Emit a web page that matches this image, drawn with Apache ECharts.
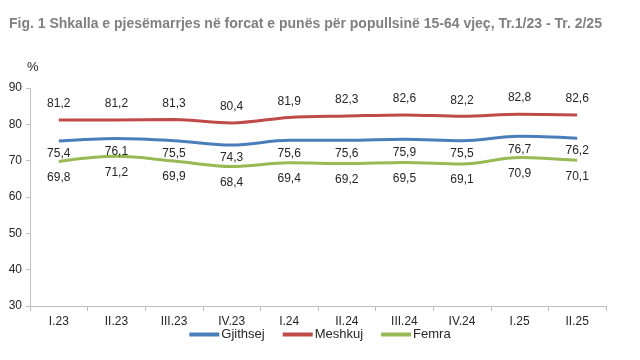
<!DOCTYPE html>
<html><head><meta charset="utf-8">
<script src="https://cdn.jsdelivr.net/npm/echarts@6/dist/echarts.min.js"></script>
<style>html,body{margin:0;padding:0;background:#fff}#c{width:640px;height:360px}</style>
</head><body><div id="c"></div>
<script>
const categories = ['I.23','II.23','III.23','IV.23','I.24','II.24','III.24','IV.24','I.25','II.25'];
const gjithsej = [75.4,76.1,75.5,74.3,75.6,75.6,75.9,75.5,76.7,76.2];
const meshkuj = [81.2,81.2,81.3,80.4,81.9,82.3,82.6,82.2,82.8,82.6];
const femra = [69.8,71.2,69.9,68.4,69.4,69.2,69.5,69.1,70.9,70.1];
const yTicks = [30,40,50,60,70,80,90];

const fmt = p => Number(p.value).toFixed(1).replace('.', ',');
const lbl = (pos, dist) => ({show:true, position:pos, distance:dist, formatter:fmt, color:'#262626', fontSize:12, fontFamily:'Liberation Sans'});
const titleText = 'Fig. 1 Shkalla e pjesëmarrjes në forcat e punës për popullsinë 15-64 vjeç, Tr.1/23 - Tr. 2/25';
// fit title width to ~600px
const cv = document.createElement('canvas').getContext('2d');
let tfs = 16;
while (tfs > 10) { cv.font = 'bold ' + tfs + 'px "Liberation Sans"'; if (cv.measureText(titleText).width <= 602) break; tfs -= 0.5; }
const chart = echarts.init(document.getElementById('c'), null, {renderer:'canvas'});
chart.setOption({
  animation:false,
  title:{text:titleText, left:4, top:12,
    textStyle:{fontFamily:'Liberation Sans', fontWeight:'bold', fontSize:tfs, color:'#808080'}},
  graphic:[{type:'text', left:27, top:61, style:{text:'%', fontSize:13, fontFamily:'Liberation Sans', fill:'#262626'}}],
  legend:{bottom:14, left:'center', itemWidth:30, itemHeight:4, itemGap:18,
    textStyle:{fontFamily:'Liberation Sans', fontSize:13, color:'#262626', padding:[0,0,0,-3]},
    icon:'rect', data:['Gjithsej','Meshkuj','Femra']},
  grid:{left:30, right:34, top:88, bottom:54, containLabel:false},
  xAxis:{type:'category', data:categories, boundaryGap:true,
    axisLine:{lineStyle:{color:'#bfbfbf'}}, axisTick:{show:true, length:5, lineStyle:{color:'#bfbfbf'}},
    axisLabel:{color:'#262626', fontSize:12, fontFamily:'Liberation Sans', margin:10}},
  yAxis:{type:'value', min:30, max:90, interval:10,
    axisLine:{show:true, lineStyle:{color:'#bfbfbf'}}, axisTick:{show:true, length:4, lineStyle:{color:'#bfbfbf'}},
    splitLine:{show:false},
    axisLabel:{color:'#262626', fontSize:12, fontFamily:'Liberation Sans', margin:8, customValues: yTicks}},
  series:[
    {name:'Gjithsej', type:'line', data:gjithsej, smooth:0.35, symbol:'circle', symbolSize:0, showSymbol:true, lineStyle:{width:3, color:'#4a7ebb'}, itemStyle:{color:'#4a7ebb'}, label:lbl('bottom',7)},
    {name:'Meshkuj', type:'line', data:meshkuj, smooth:0.35, symbol:'circle', symbolSize:0, showSymbol:true, lineStyle:{width:3, color:'#be4b48'}, itemStyle:{color:'#be4b48'}, label:lbl('top',10)},
    {name:'Femra', type:'line', data:femra, smooth:0.35, symbol:'circle', symbolSize:0, showSymbol:true, lineStyle:{width:3, color:'#98b954'}, itemStyle:{color:'#98b954'}, label:lbl('bottom',10)}
  ]
});
</script></body></html>
